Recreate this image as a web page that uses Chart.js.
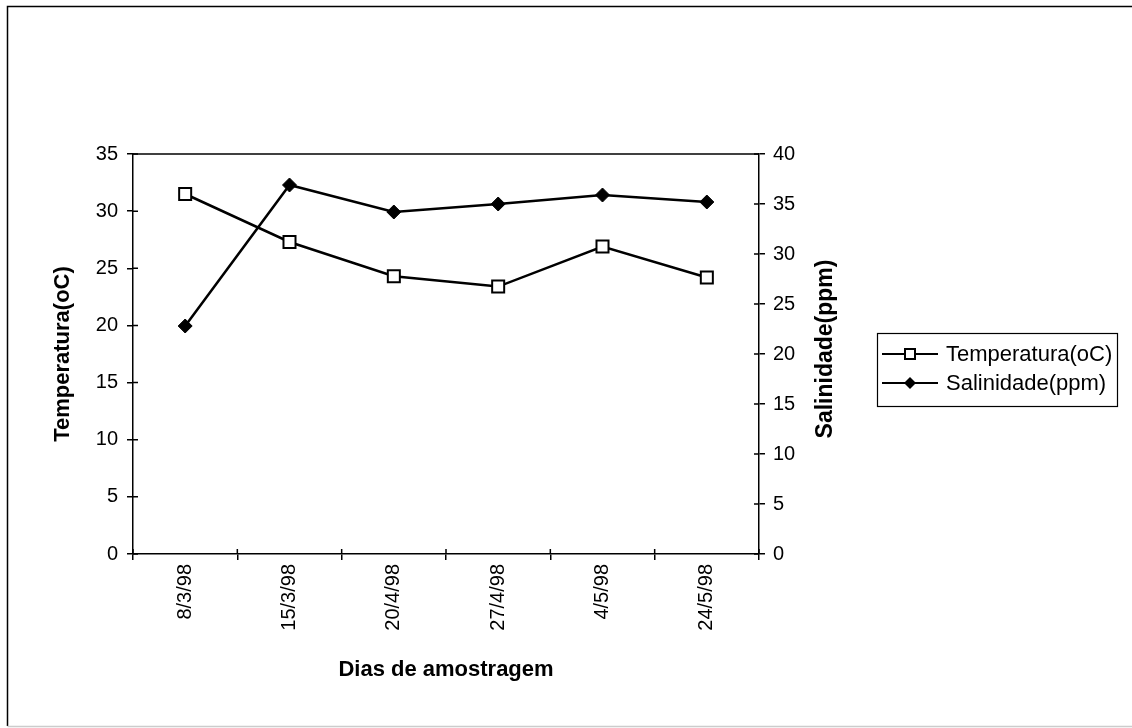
<!DOCTYPE html>
<html>
<head>
<meta charset="utf-8">
<script src="https://cdn.jsdelivr.net/npm/chart.js@4"></script>
<style>
  html, body { margin: 0; padding: 0; background: #fff; }
  #wrap { width: 1132px; height: 728px; }
</style>
</head>
<body>
<div id="wrap"><canvas id="c" width="1132" height="728"></canvas></div>
<script>
// data
const dias = ['8/3/98', '15/3/98', '20/4/98', '27/4/98', '4/5/98', '24/5/98'];
const temperatura = [31.5, 27.3, 24.3, 23.4, 26.9, 24.2];
const salinidade = [22.8, 36.9, 34.2, 35.0, 35.9, 35.2];

const FONT = "'Liberation Sans', Arial, sans-serif";
const TITLE_RIGHT = 'Salinidade(ppm)';

// frame, plot box top edge, inner tick halves, right title and the boxed legend
const extras = {
  id: 'extras',
  afterDraw(chart) {
    const ctx = chart.ctx;
    const a = chart.chartArea;
    ctx.save();
    // outer frame (top and left)
    ctx.strokeStyle = '#000';
    ctx.lineWidth = 1.5;
    ctx.beginPath();
    ctx.moveTo(7.5, 726);
    ctx.lineTo(7.5, 6.5);
    ctx.lineTo(1132, 6.5);
    ctx.stroke();
    ctx.strokeStyle = '#ccc';
    ctx.beginPath();
    ctx.moveTo(7.5, 726.5);
    ctx.lineTo(1132, 726.5);
    ctx.stroke();
    // plot box top
    ctx.strokeStyle = '#000';
    ctx.beginPath();
    ctx.moveTo(a.left, a.top);
    ctx.lineTo(a.right, a.top);
    ctx.stroke();

    // inner halves of the tick marks
    ctx.lineWidth = 1.5;
    ctx.beginPath();
    const sy = chart.scales.y, sy1 = chart.scales.y1, sx = chart.scales.x;
    sy.ticks.forEach(t => {
      const p = sy.getPixelForValue(t.value);
      ctx.moveTo(a.left, p); ctx.lineTo(a.left + 5, p);
    });
    sy1.ticks.forEach(t => {
      const p = sy1.getPixelForValue(t.value);
      ctx.moveTo(a.right, p); ctx.lineTo(a.right - 5, p);
    });
    for (let i = 0; i <= dias.length; i++) {
      const p = sx.getPixelForValue(i - 0.5);
      ctx.moveTo(p, a.bottom); ctx.lineTo(p, a.bottom - 5);
    }
    ctx.stroke();

    // right axis title, reading upwards like the left one
    ctx.save();
    ctx.translate(826, 349);
    ctx.rotate(-Math.PI / 2);
    ctx.font = 'bold 23px ' + FONT;
    ctx.textAlign = 'center';
    ctx.textBaseline = 'middle';
    ctx.fillStyle = '#000';
    ctx.fillText(TITLE_RIGHT, 0, 0);
    ctx.restore();

    // legend
    const bx = 877, by = 333, bw = 240, bh = 73;
    ctx.lineWidth = 1.2;
    ctx.strokeRect(bx + 0.5, by + 0.5, bw, bh);
    ctx.font = '22px ' + FONT;
    ctx.textBaseline = 'middle';
    chart.data.datasets.forEach((ds, i) => {
      const y = by + 21 + i * 29;
      ctx.lineWidth = 2;
      ctx.strokeStyle = '#000';
      ctx.beginPath();
      ctx.moveTo(bx + 5, y);
      ctx.lineTo(bx + 61, y);
      ctx.stroke();
      const cx = bx + 33;
      if (ds.pointStyle === 'rect') {
        ctx.fillStyle = '#fff';
        ctx.fillRect(cx - 5, y - 5, 10, 10);
        ctx.strokeRect(cx - 5, y - 5, 10, 10);
      } else {
        ctx.fillStyle = '#000';
        ctx.beginPath();
        ctx.moveTo(cx, y - 6);
        ctx.lineTo(cx + 6, y);
        ctx.lineTo(cx, y + 6);
        ctx.lineTo(cx - 6, y);
        ctx.closePath();
        ctx.fill();
      }
      ctx.fillStyle = '#000';
      ctx.fillText(ds.label, bx + 69, y + 1);
    });
    ctx.restore();
  }
};

new Chart(document.getElementById('c'), {
  type: 'line',
  data: {
    labels: dias,
    datasets: [
      {
        label: 'Temperatura(oC)',
        data: temperatura,
        yAxisID: 'y',
        borderColor: '#000',
        borderWidth: 2.5,
        backgroundColor: '#fff',
        pointStyle: 'rect',
        pointRadius: 8.5,
        pointBorderWidth: 2,
        pointBorderColor: '#000',
        pointBackgroundColor: '#fff',
        tension: 0
      },
      {
        label: 'Salinidade(ppm)',
        data: salinidade,
        yAxisID: 'y1',
        borderColor: '#000',
        borderWidth: 2.5,
        backgroundColor: '#000',
        pointStyle: 'rectRot',
        pointRadius: 7,
        pointBorderWidth: 1,
        pointBorderColor: '#000',
        pointBackgroundColor: '#000',
        tension: 0
      }
    ]
  },
  options: {
    responsive: false,
    animation: false,
    layout: { padding: { top: 154, left: 46, right: 290, bottom: 41 } },
    plugins: {
      legend: { display: false },
      tooltip: { enabled: false }
    },
    scales: {
      x: {
        offset: true,
        afterFit: s => { s.height = 133; },
        grid: { offset: true, drawOnChartArea: false, color: '#000', tickLength: 6, lineWidth: 1.5 },
        border: { color: '#000', width: 1.5 },
        ticks: { color: '#000', font: { family: FONT, size: 20 }, minRotation: 90, maxRotation: 90, padding: 4 },
        title: { display: true, text: 'Dias de amostragem', color: '#000', font: { family: FONT, size: 22, weight: 'bold' }, padding: { top: 4, bottom: 4 } }
      },
      y: {
        position: 'left',
        min: 0, max: 35,
        afterFit: s => { s.width = 87; },
        grid: { drawOnChartArea: false, color: '#000', tickLength: 6, lineWidth: 1.5 },
        border: { color: '#000', width: 1.5 },
        ticks: { stepSize: 5, color: '#000', font: { family: FONT, size: 20 }, padding: 9 },
        title: { display: true, text: 'Temperatura(oC)', color: '#000', font: { family: FONT, size: 22, weight: 'bold' }, padding: { top: 4, bottom: 4 } }
      },
      y1: {
        position: 'right',
        min: 0, max: 40,
        afterFit: s => { s.width = 83; },
        grid: { drawOnChartArea: false, color: '#000', tickLength: 6, lineWidth: 1.5 },
        border: { color: '#000', width: 1.5 },
        ticks: { stepSize: 5, color: '#000', font: { family: FONT, size: 20 }, padding: 8 },
        title: { display: false }
      }
    }
  },
  plugins: [extras]
});
</script>
</body>
</html>
